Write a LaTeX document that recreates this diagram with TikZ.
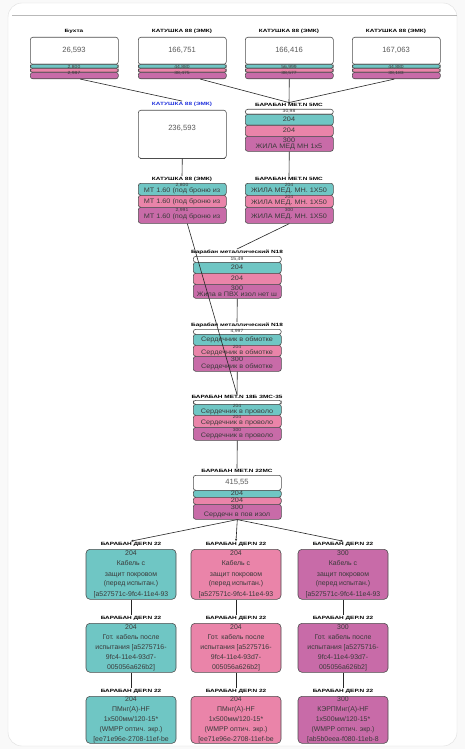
\documentclass[tikz,border=0pt]{standalone}
\usepackage{fontspec}
\setmainfont{Liberation Sans}
\newfontfamily\lblfont[FakeStretch=1.4]{Liberation Sans}
\newfontfamily\bandfont[FakeStretch=1.12]{Liberation Sans}
\usetikzlibrary{arrows.meta}
\definecolor{cteal}{HTML}{6FC6C4}
\definecolor{cpink}{HTML}{EA84A9}
\definecolor{cmag}{HTML}{C86BA8}
\definecolor{cedge}{HTML}{4D4D4D}
\definecolor{ctxt}{HTML}{3A3A3A}
\definecolor{cblue}{HTML}{2233DD}
\newcommand{\topbox}[7]{%
  \node[lbl] (#1l) at (#2+44,31) {#3};
  \node[wb, minimum width=88pt, minimum height=27pt] (#1w) at (#2,37) {};
  \node[tb, minimum width=88pt, minimum height=4pt] (#1t) at (#2,64) {};
  \node[pb, minimum width=88pt, minimum height=4pt] (#1p) at (#2,68) {};
  \node[mb, minimum width=88pt, minimum height=6.5pt] (#1m) at (#2,72) {};
  \node[big] at (#2+44,50) {#4};
  \node[sm] at (#2+44,67.5) {#5};
  \node[sm] at (#2+44,73) {#6};
}
\begin{document}
\begin{tikzpicture}[x=1pt,y=-1pt,
  bandbase/.style={draw=cedge, line width=0.6pt, rounded corners=2.5pt, inner sep=0pt, anchor=north west},
  wb/.style={bandbase, fill=white},
  tb/.style={bandbase, fill=cteal},
  pb/.style={bandbase, fill=cpink},
  mb/.style={bandbase, fill=cmag},
  cardbase/.style={draw=cedge, line width=0.6pt, rounded corners=4pt, inner sep=0pt, anchor=north, minimum width=90pt},
  lbl/.style={font=\lblfont\fontsize{4.6}{4.6}\selectfont\bfseries, inner sep=0.6pt, text=black},
  big/.style={font=\fontsize{7.6}{7.6}\selectfont, text=black!65, inner sep=0},
  sm/.style={font=\bandfont\fontsize{4.5}{4.5}\selectfont, text=ctxt, inner sep=0},
  bt/.style={font=\bandfont\fontsize{6.5}{6.5}\selectfont, text=ctxt, inner sep=0},
  cardtxt/.style={font=\fontsize{6.9}{10}\selectfont, text=ctxt, align=center, inner sep=0},
  conn/.style={draw=black!85, line width=0.6pt},
  tip/.style={conn, -{Stealth[length=2.4pt,width=2.2pt]}}
]
\useasboundingbox (0,0) rectangle (465,749);
% card frame
\fill[gray!5] (0,0) rectangle (465,749);
\draw[fill=white, draw=gray!25, rounded corners=14pt] (8,3) rectangle (457,746);
\draw[gray!55, line width=0.6pt] (12,15) -- (457,15);

% top row
\topbox{a}{30}{Бухта}{26,593}{2,800}{2,987}{}
\topbox{b}{138}{КАТУШКА 88 (ЭМК)}{166,751}{44,880}{38,475}{}
\topbox{c}{245}{КАТУШКА 88 (ЭМК)}{166,416}{56,999}{38,577}{}
\topbox{d}{352}{КАТУШКА 88 (ЭМК)}{167,063}{44,880}{38,183}{}

% middle left
\node[lbl, text=cblue] (kl) at (182,104) {КАТУШКА 88 (ЭМК)};
\node[wb, minimum width=88pt, minimum height=48pt] (kw) at (138,110) {};
\draw[cedge, line width=1.4pt] ([xshift=2pt]kw.south west) -- ([xshift=-2pt]kw.south east);
\node[big] at (182,128) {236,593};

% middle right
\node[lbl] (bl) at (289,105) {БАРАБАН МЕТ.N 5МС};
\node[wb, minimum width=88pt, minimum height=5pt] (bw) at (245,109) {};
\node[tb, minimum width=88pt, minimum height=11pt] (bt1) at (245,114) {};
\node[pb, minimum width=88pt, minimum height=11pt] (bp1) at (245,125) {};
\node[mb, minimum width=88pt, minimum height=15pt] (bm1) at (245,136) {};
\node[sm] at (289,111.5) {30,98};
\node[bt] at (289,119.5) {204};
\node[bt] at (289,130.5) {204};
\node[bt] at (289,140.5) {300};
\node[bt] at (289,147) {ЖИЛА МЕД МН 1х5};

% row 3 left
\node[lbl] (k2l) at (182,179) {КАТУШКА 88 (ЭМК)};
\node[tb, minimum width=88pt, minimum height=12pt] (k2t) at (138,183) {};
\node[pb, minimum width=88pt, minimum height=12pt] (k2p) at (138,195) {};
\node[mb, minimum width=88pt, minimum height=16pt] (k2m) at (138,207) {};
\node[sm] at (182,185.3) {2,800};
\node[bt] at (182,191) {МТ 1.60 (под броню из};
\node[bt] at (182,202) {МТ 1.60 (под броню из};
\node[sm] at (182,210) {2,991};
\node[bt] at (182,217) {МТ 1.60 (под броню из};

% row 3 right
\node[lbl] (b2l) at (289,179) {БАРАБАН МЕТ.N 5МС};
\node[tb, minimum width=88pt, minimum height=12pt] (b2t) at (245,183) {};
\node[pb, minimum width=88pt, minimum height=12pt] (b2p) at (245,195) {};
\node[mb, minimum width=88pt, minimum height=16pt] (b2m) at (245,207) {};
\node[sm] at (289,185.3) {204};
\node[bt] at (289,191) {ЖИЛА МЕД. МН. 1X50};
\node[sm] at (289,197.3) {204};
\node[bt] at (289,203) {ЖИЛА МЕД. МН. 1X50};
\node[sm] at (289,210) {300};
\node[bt] at (289,217) {ЖИЛА МЕД. МН. 1X50};

% row 4
\node[lbl] (m1l) at (237,252) {Барабан металлический N18};
\node[wb, minimum width=88pt, minimum height=6pt] (m1w) at (193,256) {};
\node[tb, minimum width=88pt, minimum height=11pt] (m1t) at (193,262) {};
\node[pb, minimum width=88pt, minimum height=11pt] (m1p) at (193,273) {};
\node[mb, minimum width=88pt, minimum height=14pt] (m1m) at (193,284) {};
\node[sm] at (237,259) {15,49};
\node[bt] at (237,267.5) {204};
\node[bt] at (237,278.5) {204};
\node[bt] at (237,288) {300};
\node[bt] at (237,294) {Жила в ПВХ изол нет ш};

% row 5
\node[lbl] (m2l) at (237,325) {Барабан металлический N18};
\node[wb, minimum width=88pt, minimum height=5pt] (m2w) at (193,329) {};
\node[tb, minimum width=88pt, minimum height=11pt] (m2t) at (193,334) {};
\node[pb, minimum width=88pt, minimum height=11pt] (m2p) at (193,345) {};
\node[mb, minimum width=88pt, minimum height=15pt] (m2m) at (193,356) {};
\node[sm] at (237,331.5) {4,997};
\node[bt] at (237,340) {Сердечник в обмотке};
\node[sm] at (237,346.8) {204};
\node[bt] at (237,352.4) {Сердечник в обмотке};
\node[bt] at (237,359.5) {300};
\node[bt] at (237,366.5) {Сердечник в обмотке};

% row 6
\node[lbl] (m3l) at (237,397) {БАРАБАН МЕТ.N 18Б ЗМС-35};
\node[wb, minimum width=88pt, minimum height=4pt] (m3w) at (193,400) {};
\node[tb, minimum width=88pt, minimum height=11pt] (m3t) at (193,404) {};
\node[pb, minimum width=88pt, minimum height=12pt] (m3p) at (193,415) {};
\node[mb, minimum width=88pt, minimum height=13pt] (m3m) at (193,427) {};
\node[sm] at (237,406) {204};
\node[bt] at (237,411.5) {Сердечник в проволо};
\node[sm] at (237,417.3) {204};
\node[bt] at (237,423) {Сердечник в проволо};
\node[sm] at (237,429.5) {300};
\node[bt] at (237,435.5) {Сердечник в проволо};

% row 7
\node[lbl] (m4l) at (237,471) {БАРАБАН МЕТ.N 22МС};
\node[wb, minimum width=88pt, minimum height=15pt] (m4w) at (193,475) {};
\node[tb, minimum width=88pt, minimum height=7pt] (m4t) at (193,490) {};
\node[pb, minimum width=88pt, minimum height=7pt] (m4p) at (193,497) {};
\node[mb, minimum width=88pt, minimum height=15pt] (m4m) at (193,504) {};
\node[big] at (237,482.5) {415,55};
\node[bt] at (237,493.5) {204};
\node[bt] at (237,500.5) {204};
\node[bt] at (237,507.5) {300};
\node[bt] at (237,514.5) {Сердечн в пов изол};

% row 8
\node[lbl] (r8al) at (131,544) {БАРАБАН ДЕР.N 22};
\node[lbl] (r8bl) at (236,544) {БАРАБАН ДЕР.N 22};
\node[lbl] (r8cl) at (343,544) {БАРАБАН ДЕР.N 22};
\node[cardbase, fill=cteal, minimum height=50pt] (r8a) at (131,549) {};
\node[cardbase, fill=cpink, minimum height=50pt] (r8b) at (236,549) {};
\node[cardbase, fill=cmag, minimum height=50pt] (r8c) at (343,549) {};
\node[cardtxt] at (r8a.center) {204\\Кабель с\\защит покровом\\(перед испытан.)\\{[}a527571c-9fc4-11e4-93};
\node[cardtxt] at (r8b.center) {204\\Кабель с\\защит покровом\\(перед испытан.)\\{[}a527571c-9fc4-11e4-93};
\node[cardtxt] at (r8c.center) {300\\Кабель с\\защит покровом\\(перед испытан.)\\{[}a527571c-9fc4-11e4-93};

% row 9
\node[lbl] (r9al) at (131,618) {БАРАБАН ДЕР.N 22};
\node[lbl] (r9bl) at (236,618) {БАРАБАН ДЕР.N 22};
\node[lbl] (r9cl) at (343,618) {БАРАБАН ДЕР.N 22};
\node[cardbase, fill=cteal, minimum height=49pt] (r9a) at (131,623) {};
\node[cardbase, fill=cpink, minimum height=49pt] (r9b) at (236,623) {};
\node[cardbase, fill=cmag, minimum height=49pt] (r9c) at (343,623) {};
\node[cardtxt] at (r9a.center) {204\\Гот. кабель после\\испытания [a5275716-\\9fc4-11e4-93d7-\\005056a626b2]};
\node[cardtxt] at (r9b.center) {204\\Гот. кабель после\\испытания [a5275716-\\9fc4-11e4-93d7-\\005056a626b2]};
\node[cardtxt] at (r9c.center) {300\\Гот. кабель после\\испытания [a5275716-\\9fc4-11e4-93d7-\\005056a626b2]};

% row 10
\node[lbl] (r10al) at (131,691) {БАРАБАН ДЕР.N 22};
\node[lbl] (r10bl) at (236,691) {БАРАБАН ДЕР.N 22};
\node[lbl] (r10cl) at (343,691) {БАРАБАН ДЕР.N 22};
\node[cardbase, fill=cteal, minimum height=47pt] (r10a) at (131,696) {};
\node[cardbase, fill=cpink, minimum height=47pt] (r10b) at (236,696) {};
\node[cardbase, fill=cmag, minimum height=47pt] (r10c) at (343,696) {};
\node[cardtxt] at (r10a.center) {204\\ПМнг(А)-HF\\1х500мм/120-15*\\(WMPP оптич. экр.)\\{[}ee71e96e-2708-11ef-be};
\node[cardtxt] at (r10b.center) {204\\ПМнг(А)-HF\\1х500мм/120-15*\\(WMPP оптич. экр.)\\{[}ee71e96e-2708-11ef-be};
\node[cardtxt] at (r10c.center) {300\\КЭРПМнг(А)-HF\\1х500мм/120-15*\\(WMPP оптич. экр.)\\{[}ab5b0eea-f080-11eb-8};

% connectors
\draw[conn] ([xshift=6pt]am.south) -- (kl.north);
\draw[conn] ([xshift=18pt]bm.south) -- (bl.north);
\draw[conn] (cm.south) -- (bl.north);
\draw[conn] ([xshift=-2pt]dm.south) -- (bl.north);
\draw[conn] (kw.south) -- (k2l.north);
\draw[conn] (bm1.south) -- (b2l.north);
\draw[conn] ([xshift=5pt]k2m.south) -- (m3l.north);
\draw[conn] (b2m.south) -- (m1l.north);
\draw[conn] (m1m.south) -- (m2l.north);
\draw[conn] (m2m.south) -- (m3l.north);
\draw[conn] (m3m.south) -- (m4l.north);
\draw[tip] (m4m.south) -- (r8al.north);
\draw[tip] (m4m.south) -- (r8bl.north);
\draw[tip] (m4m.south) -- (r8cl.north);
\draw[conn] (r8a.south) -- (r9al.north);
\draw[conn] (r8b.south) -- (r9bl.north);
\draw[conn] (r8c.south) -- (r9cl.north);
\draw[conn] (r9a.south) -- (r10al.north);
\draw[conn] (r9b.south) -- (r10bl.north);
\draw[conn] (r9c.south) -- (r10cl.north);
\end{tikzpicture}
\end{document}
